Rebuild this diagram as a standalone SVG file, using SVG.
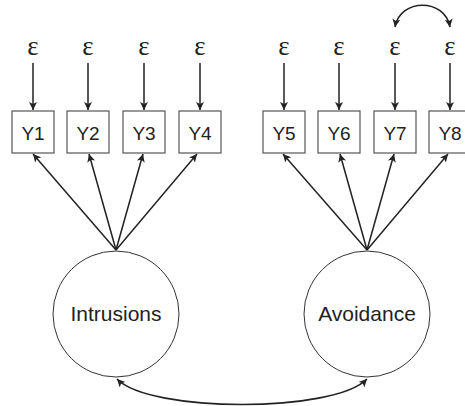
<svg xmlns="http://www.w3.org/2000/svg" width="465" height="406" viewBox="0 0 465 406">
<style>
.box{fill:#fff;stroke:#555;stroke-width:1.2}
.lat{fill:#fff;stroke:#333;stroke-width:1}
.lbl{font-family:"Liberation Sans",Arial,sans-serif;font-size:19px;fill:#222;text-anchor:middle}
.big{font-family:"Liberation Sans",Arial,sans-serif;font-size:21px;fill:#222;text-anchor:middle}
.eps{font-family:"Liberation Serif","DejaVu Serif",serif;font-size:27px;fill:#222;text-anchor:middle}
.arr{fill:none;stroke:#222;stroke-width:1.5;marker-end:url(#ah)}
.arr2{fill:none;stroke:#222;stroke-width:1.6;marker-start:url(#ahs);marker-end:url(#ah)}
</style>
<defs>
<marker id="ah" markerUnits="userSpaceOnUse" markerWidth="10" markerHeight="8" refX="8" refY="4" orient="auto">
<path d="M0,0 L8,4 L0,8 L2,4 Z" fill="#222"/>
</marker>
<marker id="ahs" markerUnits="userSpaceOnUse" markerWidth="10" markerHeight="8" refX="0" refY="4" orient="auto">
<path d="M8,0 L0,4 L8,8 L6,4 Z" fill="#222"/>
</marker>
</defs>
<rect width="465" height="406" fill="#fff"/>
<g id="connectors">
<line class="arr" x1="33" y1="63" x2="33" y2="110"/>
<line class="arr" x1="88" y1="63" x2="88" y2="110"/>
<line class="arr" x1="144" y1="63" x2="144" y2="110"/>
<line class="arr" x1="200" y1="63" x2="200" y2="110"/>
<line class="arr" x1="284" y1="63" x2="284" y2="110"/>
<line class="arr" x1="339" y1="63" x2="339" y2="110"/>
<line class="arr" x1="395" y1="63" x2="395" y2="110"/>
<line class="arr" x1="450" y1="63" x2="450" y2="110"/>
<line class="arr" x1="116" y1="250" x2="33" y2="154"/>
<line class="arr" x1="116" y1="250" x2="89" y2="154"/>
<line class="arr" x1="116" y1="250" x2="143" y2="154"/>
<line class="arr" x1="116" y1="250" x2="197" y2="154"/>
<line class="arr" x1="367" y1="250" x2="283" y2="154"/>
<line class="arr" x1="367" y1="250" x2="340" y2="154"/>
<line class="arr" x1="367" y1="250" x2="394" y2="154"/>
<line class="arr" x1="367" y1="250" x2="448" y2="154"/>
<path class="arr2" d="M395,27 C400,-2 445,-2 450,27"/>
<path class="arr2" d="M117,379 C150,413 334,413 367,379"/>
</g>
<g id="e1"><text class="eps" x="33" y="55">ε</text></g>
<g id="e2"><text class="eps" x="88" y="55">ε</text></g>
<g id="e3"><text class="eps" x="144" y="55">ε</text></g>
<g id="e4"><text class="eps" x="200" y="55">ε</text></g>
<g id="e5"><text class="eps" x="284" y="55">ε</text></g>
<g id="e6"><text class="eps" x="339" y="55">ε</text></g>
<g id="e7"><text class="eps" x="395" y="55">ε</text></g>
<g id="e8"><text class="eps" x="450" y="55">ε</text></g>
<g id="Y1"><rect class="box" x="12" y="111" width="42" height="42"/><text class="lbl" x="33" y="140">Y1</text></g>
<g id="Y2"><rect class="box" x="67" y="111" width="42" height="42"/><text class="lbl" x="88" y="140">Y2</text></g>
<g id="Y3"><rect class="box" x="123" y="111" width="42" height="42"/><text class="lbl" x="144" y="140">Y3</text></g>
<g id="Y4"><rect class="box" x="179" y="111" width="42" height="42"/><text class="lbl" x="200" y="140">Y4</text></g>
<g id="Y5"><rect class="box" x="263" y="111" width="42" height="42"/><text class="lbl" x="284" y="140">Y5</text></g>
<g id="Y6"><rect class="box" x="318" y="111" width="42" height="42"/><text class="lbl" x="339" y="140">Y6</text></g>
<g id="Y7"><rect class="box" x="374" y="111" width="42" height="42"/><text class="lbl" x="395" y="140">Y7</text></g>
<g id="Y8"><rect class="box" x="429" y="111" width="42" height="42"/><text class="lbl" x="450" y="140">Y8</text></g>
<g id="Intrusions"><circle class="lat" cx="116" cy="314" r="63"/><text class="big" x="116" y="321">Intrusions</text></g>
<g id="Avoidance"><circle class="lat" cx="367" cy="314" r="63"/><text class="big" x="367" y="321">Avoidance</text></g>
</svg>
